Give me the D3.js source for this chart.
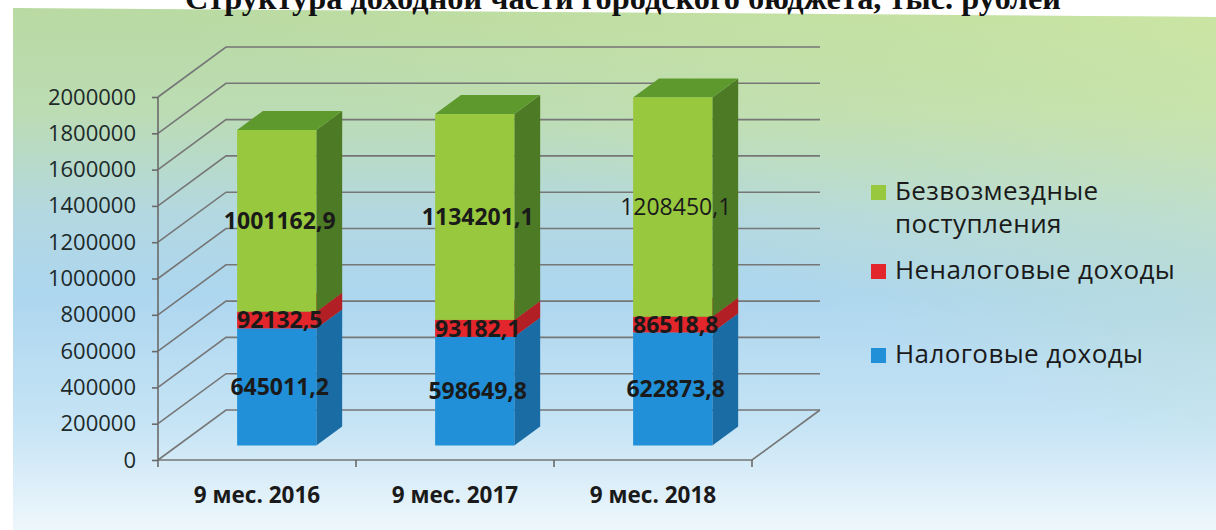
<!DOCTYPE html>
<html><head><meta charset="utf-8">
<script src="https://cdn.jsdelivr.net/npm/d3@7"></script>
<style>body{margin:0;background:#fff;overflow:hidden} svg{display:block}</style>
</head><body><svg id="c" width="1216" height="530"></svg>
<script>
// ---- data ----
const categories = ["9 мес. 2016", "9 мес. 2017", "9 мес. 2018"];
const taxIncome = [645011.2, 598649.8, 622873.8];       // Налоговые доходы
const nonTaxIncome = [92132.5, 93182.1, 86518.8];        // Неналоговые доходы
const grants = [1001162.9, 1134201.1, 1208450.1];        // Безвозмездные поступления
const seriesNames = ["Налоговые доходы", "Неналоговые доходы", "Безвозмездные поступления"];
const yTicks = [0, 200000, 400000, 600000, 800000, 1000000, 1200000, 1400000, 1600000, 1800000, 2000000];
const titleText = "Структура доходной части городского бюджета, тыс. рублей";

// ---- layout ----
const svg = d3.select("#c");
const X0 = 158, X1 = 752, Y0 = 460, Y1 = 97;
const DX = 68, DY = -50;        // depth of the 3D box
const z0 = 0.29, z1 = 0.67;     // bar depth range
const series = [
  {name: seriesNames[0], values: taxIncome, front: "#2190d8", side: "#1a6ca4", top: "#2a80c2", bold: [true, true, true]},
  {name: seriesNames[1], values: nonTaxIncome, front: "#e3262b", side: "#b21f24", top: "#c92328", bold: [true, true, true]},
  {name: seriesNames[2], values: grants, front: "#98c83e", side: "#4d7a24", top: "#5e992e", bold: [true, true, false]}
];

const y = d3.scaleLinear().domain([0, 2000000]).range([Y0, Y1]);
const x = d3.scaleBand().domain(categories).range([X0, X1]).paddingInner(0.6).paddingOuter(0.3);
const xEdges = d3.scaleBand().domain(categories).range([X0, X1]).padding(0);

// background
const defs = svg.append("defs");
const g1 = defs.append("linearGradient").attr("id", "bg").attr("x1", 0).attr("y1", 0).attr("x2", 0).attr("y2", 1);
[[0, "#b9daa2"], [0.2, "#bcdcb4"], [0.4, "#b3d8e2"], [0.55, "#add6ef"], [0.8, "#c6e4f5"], [1, "#eef7fc"]]
  .forEach(([o, c]) => g1.append("stop").attr("offset", o).attr("stop-color", c));
const g2 = defs.append("linearGradient").attr("id", "bg2").attr("x1", 0).attr("y1", 1).attr("x2", 1).attr("y2", 0);
[[0, "#d8eda2", 0], [0.55, "#d8eda2", 0], [1, "#d8eda2", 0.55]]
  .forEach(([o, c, a]) => g2.append("stop").attr("offset", o).attr("stop-color", c).attr("stop-opacity", a));
svg.append("polygon").attr("points", "13,8 1216,17 1216,530 13,530").attr("fill", "url(#bg)");
svg.append("polygon").attr("points", "13,8 1216,17 1216,530 13,530").attr("fill", "url(#bg2)");

// title
svg.append("text").attr("x", 623).attr("y", 9).attr("text-anchor", "middle")
  .attr("font-family", "'Liberation Serif', 'DejaVu Serif', serif").attr("font-weight", "bold")
  .attr("font-size", 31).attr("fill", "#111").attr("textLength", 876).attr("lengthAdjust", "spacingAndGlyphs")
  .text(titleText);

// grid (left wall + back wall)
const grid = svg.append("g").attr("fill", "none").attr("stroke", "#767676").attr("stroke-width", 1.6);
yTicks.forEach(v => {
  grid.append("path").attr("d", `M${X0},${y(v)}L${X0 + DX},${y(v) + DY}L${X1 + DX},${y(v) + DY}`);
});
// floor
grid.append("path").attr("d", `M${X0},${Y0}L${X1},${Y0}L${X1 + DX},${Y0 + DY}`);

// y axis
const yAxis = d3.axisLeft(y).tickValues(yTicks).tickSize(6).tickPadding(16).tickFormat(d3.format("d"));
const ya = svg.append("g").attr("transform", `translate(${X0},0)`).call(yAxis);
ya.select(".domain").attr("stroke", "#6a6a6a").attr("stroke-width", 1.6).attr("d", `M0,${Y1}V${Y0}`);
ya.selectAll(".tick line").attr("stroke", "#6a6a6a").attr("stroke-width", 1.6);
ya.selectAll(".tick text").attr("font-family", "'Open Sans', sans-serif").attr("font-size", 22).attr("fill", "#1d2a2a");

// x axis ticks at band edges
const edges = categories.map(c => xEdges(c)).concat([X1]);
svg.append("g").selectAll("line").data(edges).join("line")
  .attr("x1", d => d).attr("x2", d => d).attr("y1", Y0).attr("y2", Y0 + 7)
  .attr("stroke", "#6a6a6a").attr("stroke-width", 1.6);
svg.append("g").selectAll("text").data(categories).join("text")
  .attr("x", d => x(d) + x.bandwidth() / 2).attr("y", 503).attr("text-anchor", "middle")
  .attr("font-family", "'Open Sans', sans-serif").attr("font-weight", "bold").attr("font-size", 22.5)
  .attr("fill", "#1a1a1a").text(d => d);

// bars
const bw = x.bandwidth();
const dd = (z1 - z0) * DX, dz = (z1 - z0) * DY;
const fmt = v => d3.format(".1f")(v).replace(".", ",");
const barsG = svg.append("g");
const labels = [];
categories.forEach((cat, i) => {
  let cum = 0;
  const xl = x(cat) + z0 * DX, xr = xl + bw;
  series.forEach(s => {
    const v0 = cum, v1 = cum + s.values[i];
    cum = v1;
    const yb = y(v0) + z0 * DY, yt = y(v1) + z0 * DY;
    barsG.append("polygon").attr("fill", s.side)
      .attr("points", [[xr, yb], [xr + dd, yb + dz], [xr + dd, yt + dz], [xr, yt]].join(" "));
    barsG.append("polygon").attr("fill", s.top)
      .attr("points", [[xl, yt], [xr, yt], [xr + dd, yt + dz], [xl + dd, yt + dz]].join(" "));
    barsG.append("rect").attr("x", xl).attr("y", yt).attr("width", bw).attr("height", yb - yt).attr("fill", s.front);
    labels.push({x: xl + bw / 2 + 3, y: (yb + yt) / 2, t: fmt(s.values[i]), bold: s.bold[i]});
  });
});
svg.append("g").selectAll("text").data(labels).join("text")
  .attr("x", d => d.x).attr("y", d => d.y).attr("dy", "0.36em").attr("text-anchor", "middle")
  .attr("font-family", "'Open Sans', sans-serif").attr("font-size", 23)
  .attr("font-weight", d => d.bold ? "bold" : "normal").attr("fill", "#1a1a1a").text(d => d.t);

// legend
const legendItems = [
  {lines: ["Безвозмездные", "поступления"], color: series[2].front, y: 200},
  {lines: ["Неналоговые доходы"], color: series[1].front, y: 279},
  {lines: [seriesNames[0]], color: series[0].front, y: 363}
];
const lg = svg.append("g");
legendItems.forEach(it => {
  lg.append("rect").attr("x", 871).attr("y", it.y - 15).attr("width", 15).attr("height", 15).attr("fill", it.color);
  const t = lg.append("text").attr("x", 895).attr("y", it.y)
    .attr("font-family", "'Open Sans', sans-serif").attr("font-size", 26).attr("fill", "#1a1a1a")
    .attr("letter-spacing", 0.4);
  it.lines.forEach((ln, k) => {
    t.append("tspan").attr("x", 895).attr("dy", k === 0 ? 0 : 33).text(ln);
  });
});
</script></body></html>
